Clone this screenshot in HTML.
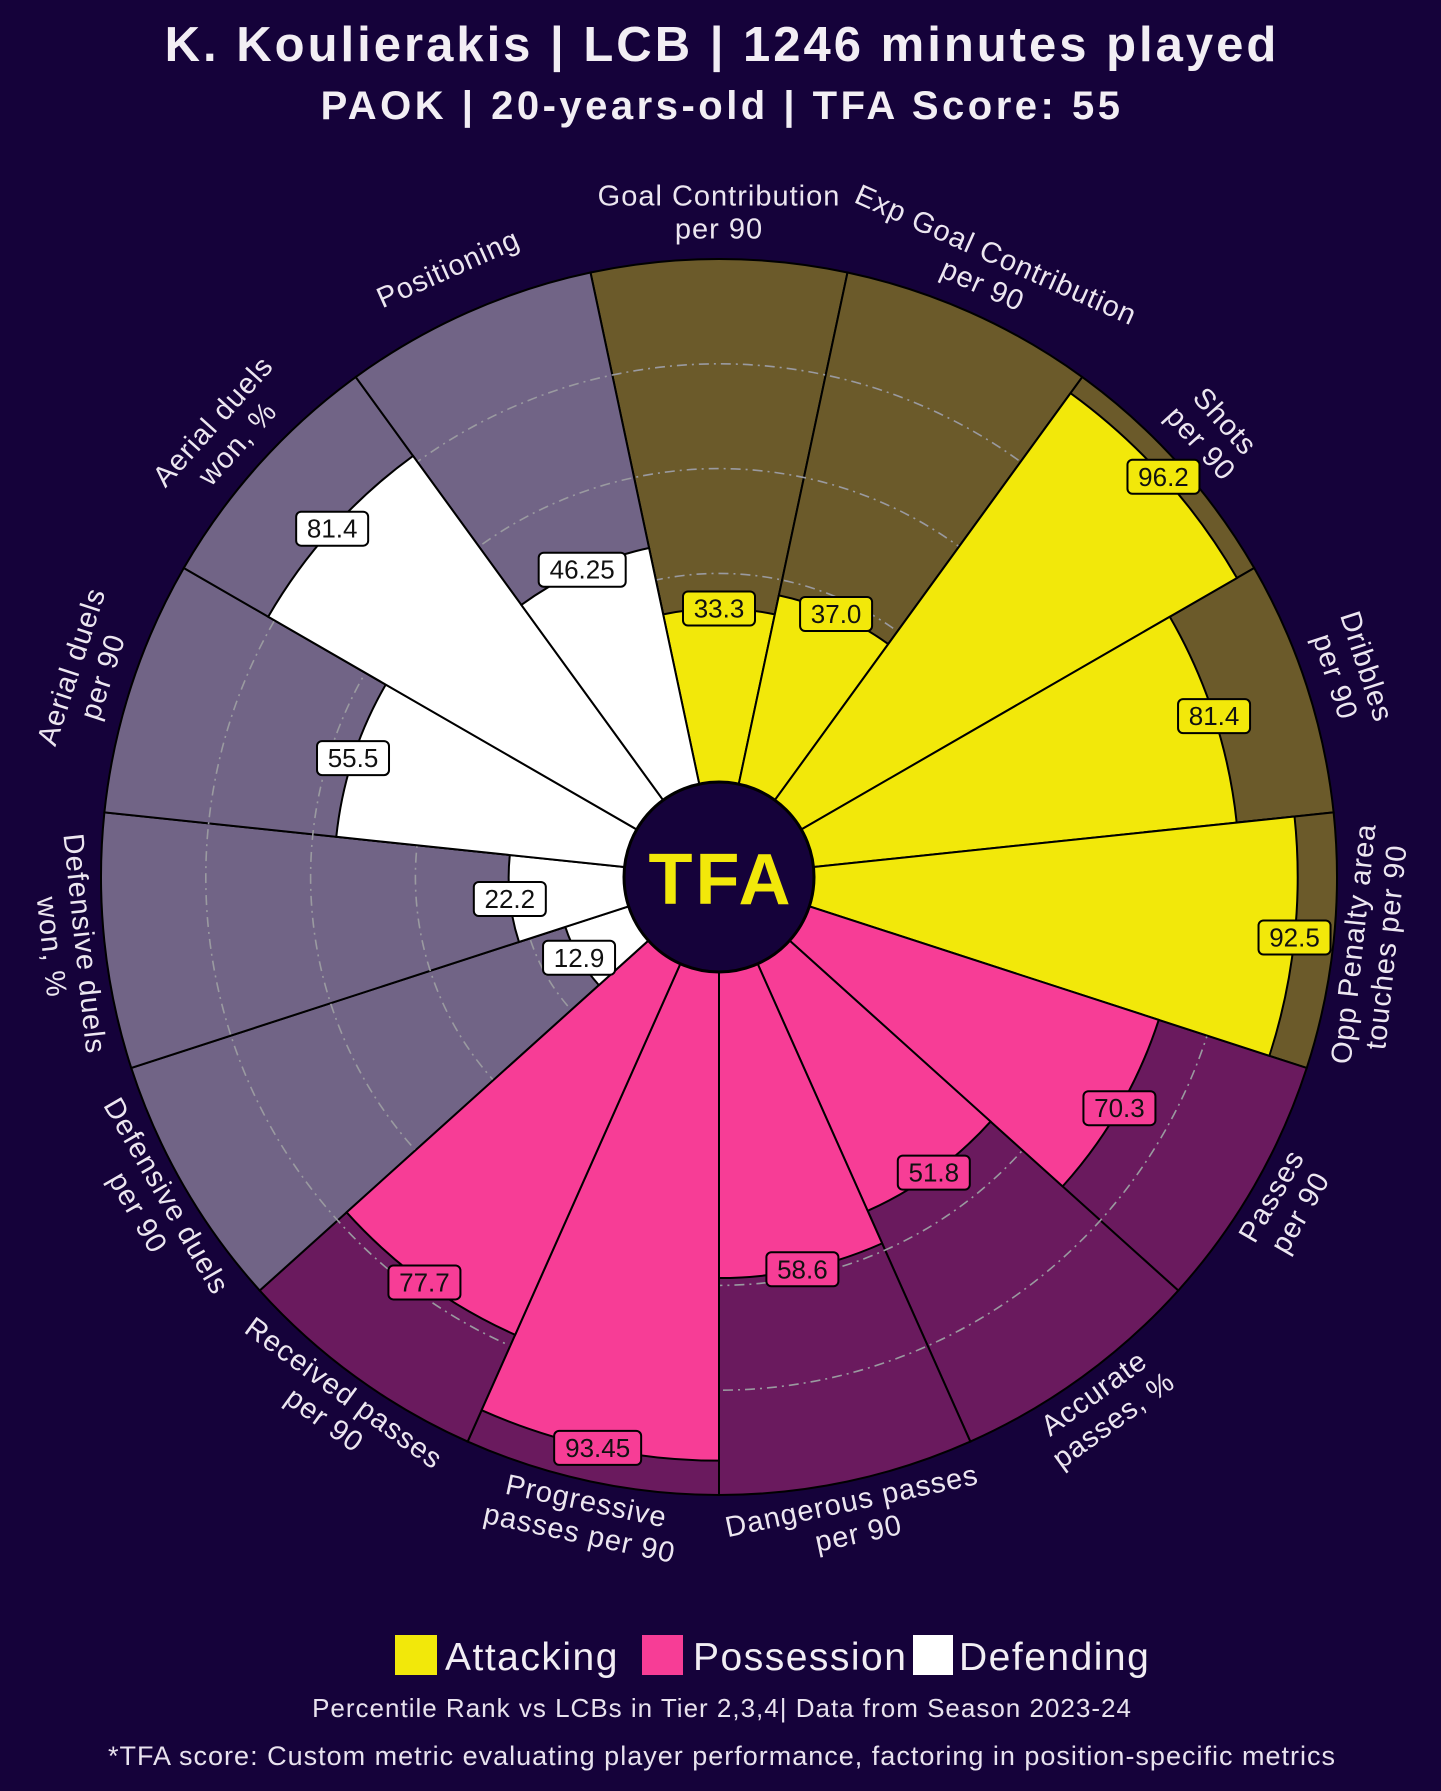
<!DOCTYPE html>
<html><head><meta charset="utf-8"><style>
html,body{margin:0;padding:0;background:#15023a;}
svg{display:block;font-family:"Liberation Sans",sans-serif;}
</style></head><body>
<svg id="s" width="1441" height="1791" viewBox="0 0 1441 1791" xmlns="http://www.w3.org/2000/svg">
<rect width="1441" height="1791" fill="#15023a"/>
<text x="722" y="61" text-anchor="middle" font-size="49" letter-spacing="3" font-weight="bold" fill="#f2eef4">K. Koulierakis | LCB | 1246 minutes played</text>
<text x="722" y="119" text-anchor="middle" font-size="40" letter-spacing="3.5" font-weight="bold" fill="#f2eef4">PAOK | 20-years-old | TFA Score: 55</text>
<g id="chart"></g>
<rect x="395" y="1635" width="42" height="40" fill="#f2e80a"/>
<text x="445" y="1670" font-size="39" letter-spacing="1.5" fill="#f2eef4">Attacking</text>
<rect x="642" y="1635" width="41" height="40" fill="#f73d96"/>
<text x="693" y="1670" font-size="39" letter-spacing="1.5" fill="#f2eef4">Possession</text>
<rect x="913" y="1635" width="40" height="40" fill="#ffffff"/>
<text x="959" y="1670" font-size="39" letter-spacing="1.5" fill="#f2eef4">Defending</text>
<text x="722" y="1717" text-anchor="middle" font-size="26" letter-spacing="1" fill="#e8e2ee">Percentile Rank vs LCBs in Tier 2,3,4| Data from Season 2023-24</text>
<text x="722" y="1765" text-anchor="middle" font-size="27" letter-spacing="1" fill="#e8e2ee">*TFA score: Custom metric evaluating player performance, factoring in position-specific metrics</text>
</svg>
<script>
var cx=719,cy=877,r0=94,R=618;
var data=[
["Goal Contribution|per 90",33.3,"a"],
["Exp Goal Contribution|per 90",37.0,"a"],
["Shots|per 90",96.2,"a"],
["Dribbles|per 90",81.4,"a"],
["Opp Penalty area|touches per 90",92.5,"a"],
["Passes|per 90",70.3,"p"],
["Accurate|passes, %",51.8,"p"],
["Dangerous passes|per 90",58.6,"p"],
["Progressive|passes per 90",93.45,"p"],
["Received passes|per 90",77.7,"p"],
["Defensive duels|per 90",12.9,"d"],
["Defensive duels|won, %",22.2,"d"],
["Aerial duels|per 90",55.5,"d"],
["Aerial duels|won, %",81.4,"d"],
["Positioning",46.25,"d"]];
var bg={a:"#6b5a2a",p:"#6a1a5e",d:"#716486"},fg={a:"#f2e80a",p:"#f73d96",d:"#ffffff"};
function P(r,a){a=a*Math.PI/180;return [(cx+r*Math.sin(a)).toFixed(2),(cy-r*Math.cos(a)).toFixed(2)];}
function sec(ri,ro,a1,a2){var A=P(ro,a1),B=P(ro,a2),C=P(ri,a2),D=P(ri,a1);
return "M"+A+" A"+ro+" "+ro+" 0 0 1 "+B+" L"+C+" A"+ri+" "+ri+" 0 0 0 "+D+" Z";}
var h="";
data.forEach(function(d,i){var c=i*24;h+='<path d="'+sec(r0,R,c-12,c+12)+'" fill="'+bg[d[2]]+'" stroke="#000" stroke-width="2"/>';});
[0.2,0.4,0.6,0.8].forEach(function(k){h+='<circle cx="'+cx+'" cy="'+cy+'" r="'+(r0+(R-r0)*k)+'" fill="none" stroke="#9a9aa0" stroke-width="1.6" stroke-dasharray="10,5,2,5"/>';});
data.forEach(function(d,i){var c=i*24;var rv=r0+(R-r0)*d[1]/100;h+='<path d="'+sec(r0,rv,c-12,c+12)+'" fill="'+fg[d[2]]+'" stroke="#000" stroke-width="2"/>';});
h+='<circle cx="'+cx+'" cy="'+cy+'" r="95" fill="#15023a" stroke="#000" stroke-width="3"/>';
h+='<text x="'+(cx+2)+'" y="904" text-anchor="middle" font-size="72" letter-spacing="3" font-weight="bold" fill="#f2e80a">TFA</text>';
data.forEach(function(d,i){var c=i*24;var rv=r0+(R-r0)*d[1]/100;var p=P(rv,c);var t=String(d[1]);
if(d[1]==37)t="37.0";var w=t.length*15+12;
h+='<rect x="'+(p[0]-w/2)+'" y="'+(p[1]-17)+'" width="'+w+'" height="34" rx="5" fill="'+fg[d[2]]+'" stroke="#000" stroke-width="2"/>';
h+='<text x="'+p[0]+'" y="'+(+p[1]+9)+'" text-anchor="middle" font-size="26" fill="#111">'+t+'</text>';});
data.forEach(function(d,i){var c=i*24;var lines=d[0].split("|");var bottom=(c>90&&c<270);
var rot=bottom?c-180:c;h+='<g transform="translate('+cx+','+cy+') rotate('+rot+')" fill="#ece6f0" font-size="29" letter-spacing="1">';
if(lines.length==1){h+='<text x="0" y="'+(bottom?664:-664)+'" text-anchor="middle" dominant-baseline="middle">'+lines[0]+'</text>';}
else if(!bottom){h+='<text x="0" y="-679" text-anchor="middle" dominant-baseline="middle">'+lines[0]+'</text><text x="0" y="-646" text-anchor="middle" dominant-baseline="middle">'+lines[1]+'</text>';}
else{h+='<text x="0" y="640" text-anchor="middle" dominant-baseline="middle">'+lines[0]+'</text><text x="0" y="673" text-anchor="middle" dominant-baseline="middle">'+lines[1]+'</text>';}
h+='</g>';});
document.getElementById("chart").innerHTML=h;
</script>
</body></html>
